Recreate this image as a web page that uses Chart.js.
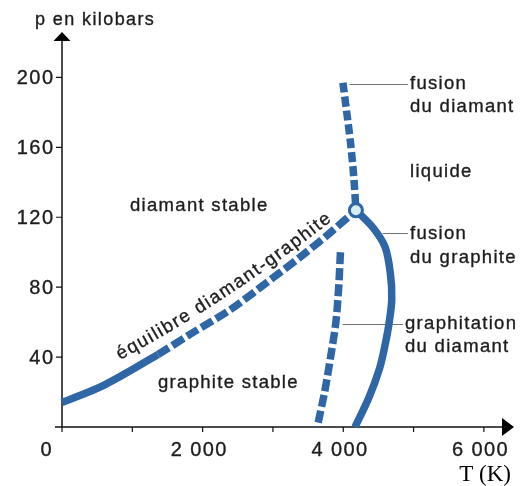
<!DOCTYPE html>
<html>
<head>
<meta charset="utf-8">
<script src="https://cdn.jsdelivr.net/npm/chart.js@4.4.0/dist/chart.umd.min.js"></script>
<style>
  html, body { margin: 0; padding: 0; background: #fff; }
</style>
</head>
<body>
<canvas id="diagram" width="526" height="486"></canvas>
<script>
// phase diagram of carbon, T in K, p in kilobars
const eqT = [0, 600, 1365, 1820, 2390, 2890, 3380, 3810, 4180];
const eqP = [14, 24, 41.5, 53, 67, 82, 97, 111, 124];

const meltDiamT = [3995, 4050, 4105, 4150, 4180];
const meltDiamP = [197, 180, 162, 143, 124];

const meltGraphT = [4180, 4424, 4595, 4670, 4690, 4650, 4595, 4520, 4367, 4168];
const meltGraphP = [124, 114, 103, 88, 73, 59, 47, 34, 17, 0];

const graphitT = [3960, 3935, 3895, 3820, 3735, 3630];
const graphitP = [100, 80, 60, 40, 20, 0];

const triple = [4180, 124];

const xTicks = [0, 1000, 2000, 3000, 4000, 5000, 6000];
const xLabels = ["0", "", "2 000", "", "4 000", "", "6 000"];
const yTicks = [40, 80, 120, 160, 200];

// leader lines: T from, T to, p
const leaders = [[4090, 4920, 196], [4560, 4920, 111], [3990, 4850, 59]];

const blue = "#2f66a6";
const ink = "#1d1d1d";
const sans = "'Liberation Sans', Arial, sans-serif";

function pts(xs, ys) {
  return xs.map((v, i) => ({ x: v, y: ys[i] }));
}

// fill + thin stroke so the print-like text gets some weight
function ink_text(ctx, t, x, y) {
  ctx.fillText(t, x, y);
  ctx.strokeText(t, x, y);
}

function textOnCurve(ctx, str, p0, p1, p2, spacing) {
  // sample quadratic curve and place chars by arc length
  const samples = [];
  let len = 0;
  for (let i = 0; i <= 200; i++) {
    const t = i / 200;
    const px = (1 - t) * (1 - t) * p0[0] + 2 * (1 - t) * t * p1[0] + t * t * p2[0];
    const py = (1 - t) * (1 - t) * p0[1] + 2 * (1 - t) * t * p1[1] + t * t * p2[1];
    if (i > 0) {
      const prev = samples[i - 1];
      len += Math.hypot(px - prev.x, py - prev.y);
    }
    samples.push({ x: px, y: py, s: len });
  }
  function at(s) {
    for (let i = 1; i < samples.length; i++) {
      if (samples[i].s >= s) {
        const a = samples[i - 1], b = samples[i];
        const f = (s - a.s) / (b.s - a.s || 1);
        return { x: a.x + (b.x - a.x) * f, y: a.y + (b.y - a.y) * f, ang: Math.atan2(b.y - a.y, b.x - a.x) };
      }
    }
    const a = samples[samples.length - 2], b = samples[samples.length - 1];
    return { x: b.x, y: b.y, ang: Math.atan2(b.y - a.y, b.x - a.x) };
  }
  let s = 0;
  for (const ch of str) {
    const w = ctx.measureText(ch).width;
    const p = at(s + w / 2);
    ctx.save();
    ctx.translate(p.x, p.y);
    ctx.rotate(p.ang);
    ctx.textAlign = "center";
    ink_text(ctx, ch, 0, 0);
    ctx.restore();
    s += w + spacing;
  }
}

const drawing = {
  id: "drawing",
  beforeDatasetsDraw(chart) {
    const { ctx, scales: { x, y } } = chart;
    const x0 = x.getPixelForValue(0);
    const y0 = y.getPixelForValue(0);
    ctx.save();
    ctx.strokeStyle = "#111";
    ctx.fillStyle = "#000";
    ctx.lineWidth = 1.5;
    ctx.beginPath();
    ctx.moveTo(x0 - 7, y0);
    ctx.lineTo(x.right - 10, y0);
    ctx.moveTo(x0, y0);
    ctx.lineTo(x0, y.top + 8);
    ctx.stroke();

    // arrow heads
    ctx.beginPath();
    ctx.moveTo(x0, y.top);
    ctx.lineTo(x0 - 8.5, y.top + 9);
    ctx.lineTo(x0 + 8.5, y.top + 9);
    ctx.closePath();
    ctx.fill();
    ctx.beginPath();
    ctx.moveTo(x.right + 2, y0);
    ctx.lineTo(x.right - 10, y0 - 9);
    ctx.lineTo(x.right - 10, y0 + 9);
    ctx.closePath();
    ctx.fill();

    // ticks
    ctx.lineWidth = 1.2;
    ctx.beginPath();
    xTicks.forEach(v => {
      const px = x.getPixelForValue(v);
      ctx.moveTo(px, y0);
      ctx.lineTo(px, y0 + 5);
    });
    yTicks.forEach(v => {
      const py = y.getPixelForValue(v);
      ctx.moveTo(x0 - 6, py);
      ctx.lineTo(x0, py);
    });
    ctx.stroke();

    // leader lines
    ctx.strokeStyle = "#6d7478";
    ctx.lineWidth = 1;
    ctx.beginPath();
    leaders.forEach(l => {
      const py = Math.round(y.getPixelForValue(l[2])) + 0.5;
      ctx.moveTo(x.getPixelForValue(l[0]), py);
      ctx.lineTo(x.getPixelForValue(l[1]), py);
    });
    ctx.stroke();
    ctx.restore();
  },
  afterDatasetsDraw(chart) {
    const { ctx, scales: { x, y } } = chart;
    const x0 = x.getPixelForValue(0);
    const y0 = y.getPixelForValue(0);
    ctx.save();
    ctx.fillStyle = ink;
    ctx.strokeStyle = ink;
    ctx.lineWidth = 0.35;
    ctx.textBaseline = "middle";

    // tick labels
    ctx.font = "20px " + sans;
    ctx.letterSpacing = "1.4px";
    yTicks.forEach(v => {
      const t = String(v);
      const w = ctx.measureText(t).width - 1.4;
      ctx.textAlign = "left";
      ink_text(ctx, t, x0 - 9 - w, y.getPixelForValue(v) + 1);
    });
    xTicks.forEach((v, i) => {
      const t = xLabels[i];
      if (!t) return;
      const w = ctx.measureText(t).width - 1.4;
      const cx = x.getPixelForValue(v) - (v === 0 ? 16 : 4);
      ctx.textAlign = "left";
      ink_text(ctx, t, cx - w / 2, y0 + 23);
    });

    // axis titles
    ctx.font = "18px " + sans;
    ctx.letterSpacing = "1.4px";
    ctx.textAlign = "left";
    ink_text(ctx, "p en kilobars", 35, 20);
    ctx.letterSpacing = "0px";
    ctx.font = "23px 'Liberation Serif', 'Times New Roman', serif";
    ctx.fillStyle = "#000";
    ctx.textAlign = "right";
    ctx.fillText("T (K)", 511, 475);

    // region and curve labels
    ctx.fillStyle = ink;
    ctx.font = "18.5px " + sans;
    ctx.letterSpacing = "1.3px";
    ctx.textAlign = "left";
    const labels = [
      ["diamant stable", 130, 206],
      ["graphite stable", 158, 383],
      ["fusion", 410, 84],
      ["du diamant", 410, 107],
      ["liquide", 410, 172],
      ["fusion", 410, 234],
      ["du graphite", 410, 258],
      ["graphitation", 405, 324],
      ["du diamant", 405, 347]
    ];
    labels.forEach(l => ink_text(ctx, l[0], l[1], l[2]));

    ctx.letterSpacing = "0px";
    ctx.textBaseline = "alphabetic";
    textOnCurve(ctx, "équilibre diamant-graphite", [120, 360], [228, 302], [334, 219], 1.6);
    ctx.restore();
  }
};

const line = {
  showLine: true,
  fill: false,
  pointRadius: 0,
  borderColor: blue,
  borderWidth: 7.5,
  borderCapStyle: "butt",
  tension: 0.3,
  clip: false
};

new Chart(document.getElementById("diagram"), {
  type: "scatter",
  data: {
    datasets: [
      {
        label: "point triple",
        data: [{ x: triple[0], y: triple[1] }],
        pointRadius: 6.5,
        pointBorderWidth: 3,
        pointBackgroundColor: "#d5eff3",
        pointBorderColor: blue,
        clip: false
      },
      Object.assign({}, line, {
        label: "équilibre diamant-graphite",
        data: pts(eqT, eqP),
        segment: {
          borderDash: ctx => (ctx.p0DataIndex >= 2 ? [13, 4] : undefined)
        }
      }),
      Object.assign({}, line, {
        label: "fusion du diamant",
        data: pts(meltDiamT, meltDiamP),
        borderDash: [10, 4]
      }),
      Object.assign({}, line, {
        label: "fusion du graphite",
        data: pts(meltGraphT, meltGraphP)
      }),
      Object.assign({}, line, {
        label: "graphitation du diamant",
        data: pts(graphitT, graphitP),
        borderDash: [12, 4]
      })
    ]
  },
  options: {
    responsive: false,
    animation: false,
    layout: { padding: { left: 62, right: 14, top: 32, bottom: 59 } },
    plugins: { legend: { display: false }, tooltip: { enabled: false } },
    scales: {
      x: { type: "linear", min: 0, max: 6400, display: false },
      y: { type: "linear", min: 0, max: 226, display: false }
    }
  },
  plugins: [drawing]
});
</script>
</body>
</html>
